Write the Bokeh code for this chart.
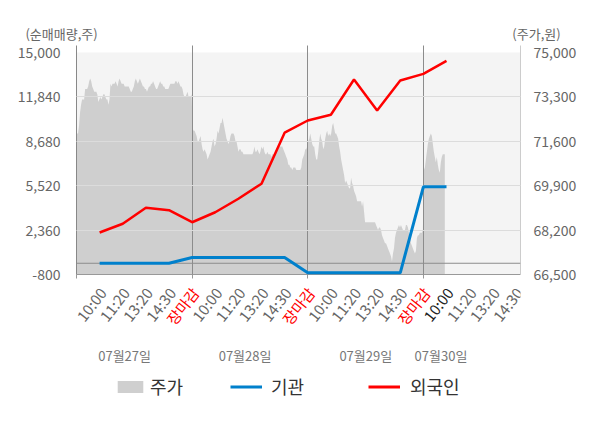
from bokeh.plotting import figure
from bokeh.layouts import column
from bokeh.models import (Range1d, LinearAxis, FixedTicker, NumeralTickFormatter, Span,
                          BoxAnnotation, Legend, LegendItem)
from bokeh.core.properties import value
from bokeh.embed import file_html
from bokeh.resources import INLINE

FONT = "Noto Sans CJK KR"
NAN = float("nan")

# ---------------- data ----------------
time_labels = ["10:00", "11:20", "13:20", "14:30", "장마감"]
day_labels = ["07월27일", "07월28일", "07월29일", "07월30일"]
day_label_x = [2.08, 7.29, 12.51, 15.76]
left_ticks = [-800, 2360, 5520, 8680, 11840, 15000]
right_ticks = [66500, 68200, 69900, 71600, 73300, 75000]
axis_titles = ["(순매매량,주)", "(주가,원)"]
legend_labels = ["주가", "기관", "외국인"]

# 주가 (price, won) – intraday samples per day
price_day1 = [71900, 71900, 72200, 72700, 73000, 73200, 73200, 73200, 73600, 73600,
              73600, 73700, 73900, 74000, 73900, 73700, 73600, 73500, 73500, 73500,
              73400, 73100, 73200, 73300, 73200, 73300, 73400, 73400, 73300, 73200,
              73200, 73000, 73200, 73800, 73700, 73800, 73800, 73800, 73900, 73800,
              73700, 73900, 74000, 73900, 73800, 73800, 73800, 73700, 73700, 73700,
              73700, 73700, 73600, 73500, 73500, 73600, 73700, 73900, 74000, 73900,
              73800, 73900, 74000, 73900, 73800, 73700, 73700, 73600, 73600, 73500,
              73600, 73700, 73700, 73800, 73800, 73900, 73800, 73700, 73600, 73600,
              73700, 73800, 73900, 73800, 73800, 73700, 73700, 73600, 73600, 73600,
              73600, 73700, 73800, 73800, 73800, 73800, 73800, 73900, 73900, 73800,
              73900, 73800, 73700, 73700, 73600, 73400, 73300, 73300, 73400, 73500,
              73300, 73300, 73300, 73400]
price_day2 = [72100, 72000, 72000, 71900, 71800, 71600, 71600, 71700, 71800, 71500,
              71300, 71200, 71300, 71200, 71100, 70900, 71000, 71100, 71200, 71400,
              71600, 71700, 71400, 71500, 71700, 72000, 71900, 72100, 72300, 72300,
              72500, 72300, 72100, 71900, 71700, 71600, 71500, 71600, 71800, 71900,
              71900, 71900, 71800, 71600, 71600, 71400, 71200, 71300, 71300, 71200,
              71200, 71100, 71100, 71100, 71100, 71100, 71100, 71100, 71100, 71100,
              71100, 71200, 71400, 71200, 71200, 71300, 71200, 71100, 71200, 71400,
              71300, 71400, 71200, 71100, 71100, 71200, 71100, 71100, 71100, 71000,
              71100, 71100, 71100, 71200, 71200, 71300, 71300, 71400, 71400, 71400,
              71400, 71300, 71200, 71100, 71000, 70900, 70700, 70700, 70600, 70600,
              70500, 70600, 70600, 70600, 70500, 70500, 70500, 70500, 70500, 70600,
              70900, 71000, 71100, 71300, 71300, 71400]
price_day3 = [71600, 71700, 71900, 71700, 71500, 71400, 71400, 71100, 70900, 70900,
              71200, 71600, 71900, 71700, 71600, 71300, 71400, 71700, 71900, 72000,
              71800, 71900, 71800, 71900, 72200, 72300, 72100, 71900, 71900, 71800,
              71700, 71400, 71200, 70900, 70700, 70500, 70300, 70000, 70100, 70000,
              69900, 69800, 69800, 70200, 70000, 69900, 69700, 69600, 69500, 69300,
              69300, 69300, 69300, 69300, 69100, 69300, 68900, 68500, 68500, 68500,
              68500, 68500, 68500, 68500, 68500, 68500, 68500, 68500, 68400, 68300,
              68200, 68300, 68300, 68200, 68000, 67900, 67800, 67700, 67700, 67600,
              67500, 67400, 67300, 67200, 67000, 67300, 67500, 67900, 68100, 68200,
              68300, 68400, 68300, 68400, 68300, 68200, 68200, 68200, 68400, 68400,
              68300, 68100, 67900, 67700, 67600, 67500, 67400, 67300, 67400, 67900,
              68000, 68000, 68100, 68100, 68100, 68200]
price_day4 = [70500, 70600, 70900, 71200, 71500, 71700, 71800, 71900, 71800, 71500,
              71200, 71000, 70800, 71000, 70700, 70500, 70400, 70800, 71000, 71100,
              71100, 71100]

# 순매매량 (net purchase, shares) at each tick slot
foreign = [2190, 2810, 3950, 3780, 2920, 3630, 4590, 5660, 9290, 10160,
           10570, 13080, 10870, 13010, 13480, 14410]
institution = [0, 0, 0, 0, 410, 410, 410, 410, 410, -680,
               -680, -680, -680, -680, 5440, 5440]

# ---------------- styles / layout ----------------
GRAY_AREA = "#cfcfcf"
BLUE = "#0080cc"
RED = "#ff0000"
W, H = 600, 428
TOP_H = 42
MAIN_TOP = 3
FRAME_H = 229
MAIN_BOTTOM = 9
MAIN_H = MAIN_TOP + FRAME_H + MAIN_BOTTOM
BOTTOM_H = H - TOP_H - MAIN_H
BL, BR = 76, 80
SLOTS = 5
X_END = 19.2
FULL_DAY_SAMPLES = 116
band_frac = 7 / 222

left_end = left_ticks[-1] + (left_ticks[-1] - left_ticks[0]) * band_frac
right_end = right_ticks[-1] + (right_ticks[-1] - right_ticks[0]) * band_frac

# ---------- top strip: axis titles ----------
pt = figure(width=W, height=TOP_H, output_backend="svg", toolbar_location=None,
            x_range=Range1d(0, W), y_range=Range1d(0, TOP_H),
            x_axis_type=None, y_axis_type=None,
            min_border_left=0, min_border_right=0, min_border_top=0, min_border_bottom=0)
pt.frame_align = False
pt.outline_line_color = None
pt.grid.visible = False
pt.text(x=[61, 536], y=[TOP_H - 33, TOP_H - 33], text=axis_titles, text_align="center",
        text_baseline="middle", text_color="#666666", text_font=value(FONT),
        text_font_size="13px")

# ---------- main chart ----------
p = figure(width=W, height=MAIN_H, output_backend="svg", toolbar_location=None,
           x_range=Range1d(0, X_END), y_range=Range1d(left_ticks[0], left_end),
           min_border_left=BL, min_border_right=BR, min_border_top=MAIN_TOP,
           min_border_bottom=MAIN_BOTTOM)
p.extra_y_ranges = {"price": Range1d(right_ticks[0], right_end)}
p.outline_line_color = None
p.background_fill_color = "white"
p.border_fill_color = "white"

p.add_layout(BoxAnnotation(bottom=left_ticks[0], top=left_ticks[-1], fill_color="#f4f4f4",
                           fill_alpha=1, line_color=None, level="image"))

px, py = [], []
for d, day in enumerate([price_day1, price_day2, price_day3, price_day4]):
    n = len(day) if d < 3 else FULL_DAY_SAMPLES
    step = SLOTS / n
    for i, v in enumerate(day):
        px.append(SLOTS * d + (i + 0.5) * step)
        py.append(v)
p.varea(x=px, y1=right_ticks[0], y2=py, y_range_name="price",
        fill_color=GRAY_AREA, fill_alpha=1)

p.ygrid.ticker = FixedTicker(ticks=left_ticks[1:-1])
p.ygrid.grid_line_color = "#dcdcdc"
p.ygrid.level = "guide"
p.xgrid.ticker = FixedTicker(ticks=[SLOTS, 2 * SLOTS, 3 * SLOTS])
p.xgrid.grid_line_color = "#8c8c8c"
p.xgrid.level = "guide"
p.add_layout(Span(location=0, dimension="width", line_color="#8c8c8c", line_width=1,
                  level="guide"))

slots = list(range(1, len(foreign) + 1))
p.line(x=slots, y=institution, line_color=BLUE, line_width=3, level="overlay")
p.line(x=slots, y=foreign, line_color=RED, line_width=2.5, level="overlay")

ya = p.yaxis[0]
ya.ticker = FixedTicker(ticks=left_ticks)
ya.formatter = NumeralTickFormatter(format="0,0")
ya.axis_line_color = "#888888"
ya.major_tick_line_color = None
ya.minor_tick_line_color = None
ya.major_label_standoff = 10
ya.major_label_text_font = FONT
ya.major_label_text_font_size = "14px"
ya.major_label_text_color = "#666666"

ra = LinearAxis(y_range_name="price", ticker=FixedTicker(ticks=right_ticks),
                formatter=NumeralTickFormatter(format="0,0"))
ra.axis_line_color = "#cccccc"
ra.major_tick_line_color = None
ra.minor_tick_line_color = None
ra.major_label_standoff = 7
ra.major_label_text_font = FONT
ra.major_label_text_font_size = "14px"
ra.major_label_text_color = "#666666"
p.add_layout(ra, "right")

xa = p.xaxis[0]
xa.ticker = FixedTicker(ticks=[], minor_ticks=[0, SLOTS, 2 * SLOTS, 3 * SLOTS])
xa.axis_line_color = "#999999"
xa.major_tick_line_color = None
xa.minor_tick_line_color = "#999999"
xa.minor_tick_in = 0
xa.minor_tick_out = 4

# ---------- bottom strip: x labels, dates, legend ----------
pb = figure(width=W, height=BOTTOM_H, output_backend="svg", toolbar_location=None,
            x_range=p.x_range, y_range=Range1d(0, BOTTOM_H),
            x_axis_type=None, y_axis_type=None,
            min_border_left=BL, min_border_right=BR, min_border_top=0, min_border_bottom=0)
pb.outline_line_color = None
pb.grid.visible = False

current_slot = len(foreign)
tx, tt, tc = [], [], []
for d in range(len(day_labels)):
    for k, lab in enumerate(time_labels):
        s = SLOTS * d + k + 1
        if s > X_END:
            continue
        tx.append(s)
        tt.append(lab)
        if lab == "장마감":
            tc.append(RED)
        elif s == current_slot:
            tc.append("#222222")
        else:
            tc.append("#666666")
page_y0 = H  # page y of the bottom strip's lower edge
pb.text(x=tx, y=page_y0 - 289, text=tt, angle=52, angle_units="deg",
        text_align="right", text_baseline="middle", text_color=tc,
        text_font=value(FONT), text_font_size="15px", x_offset=3)
pb.text(x=day_label_x, y=page_y0 - 355, text=day_labels, text_align="center",
        text_baseline="middle", text_color="#777777", text_font=value(FONT),
        text_font_size="13px")

# legend proxies (no visible data)
r_area = pb.varea(x=[NAN], y1=[NAN], y2=[NAN], fill_color=GRAY_AREA, fill_alpha=1)
r_inst = pb.line(x=[NAN], y=[NAN], line_color=BLUE, line_width=3)
r_for = pb.line(x=[NAN], y=[NAN], line_color=RED, line_width=3)

def make_legend(label, rend, loc, standoff):
    return Legend(items=[LegendItem(label=label, renderers=[rend])], location=loc,
                  orientation="horizontal", padding=0, margin=0, spacing=0,
                  border_line_color=None, background_fill_alpha=0,
                  glyph_width=32, glyph_height=15, label_height=15, label_standoff=standoff,
                  label_text_font=FONT, label_text_font_size="18px",
                  label_text_color="#333333")

leg_y = page_y0 - 399
pb.add_layout(make_legend(legend_labels[0], r_area, (38, leg_y), 4), "center")
pb.add_layout(make_legend(legend_labels[1], r_inst, (154, leg_y), 9), "center")
pb.add_layout(make_legend(legend_labels[2], r_for, (292, leg_y), 10), "center")

layout = column(pt, p, pb, spacing=0)
open("out.html", "w").write(file_html(layout, INLINE))
